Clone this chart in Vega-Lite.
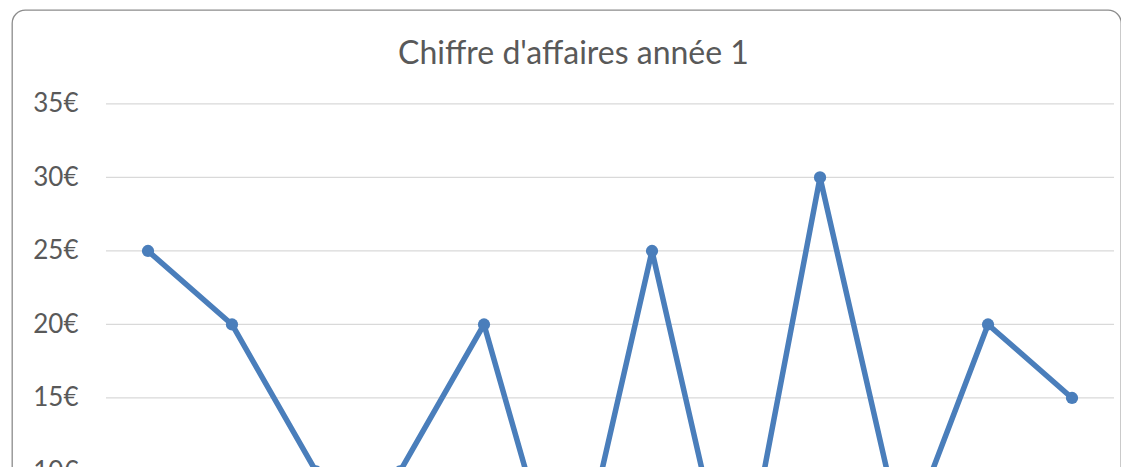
{
  "$schema": "https://vega.github.io/schema/vega-lite/v6.json",
  "width": 1109,
  "height": 682,
  "autosize": {"type": "none"},
  "padding": {"left": 12, "top": 10, "right": 0, "bottom": 0},
  "background": "white",
  "config": {
    "font": "Lato",
    "view": {"stroke": "#8c8c8c", "strokeWidth": 1.3, "cornerRadius": 13}
  },
  "title": {
    "text": "Chiffre d'affaires année 1",
    "font": "Lato",
    "fontSize": 32,
    "fontWeight": "normal",
    "color": "#595959",
    "anchor": "middle",
    "baseline": "alphabetic",
    "offset": -53,
    "dx": 7,
    "dy": 33
  },
  "datasets": {
    "ventes": [
      {"mois": 1, "ca": 25},
      {"mois": 2, "ca": 20},
      {"mois": 3, "ca": 10},
      {"mois": 4, "ca": 10},
      {"mois": 5, "ca": 20},
      {"mois": 6, "ca": 0},
      {"mois": 7, "ca": 25},
      {"mois": 8, "ca": 0},
      {"mois": 9, "ca": 30},
      {"mois": 10, "ca": 5},
      {"mois": 11, "ca": 20},
      {"mois": 12, "ca": 15}
    ],
    "grille": [
      {"v": 0}, {"v": 5}, {"v": 10}, {"v": 15}, {"v": 20}, {"v": 25}, {"v": 30}, {"v": 35}
    ]
  },
  "layer": [
    {
      "data": {"name": "grille"},
      "mark": {"type": "rule", "color": "#d9d9d9", "strokeWidth": 1.2},
      "encoding": {
        "x": {"datum": 0.5, "type": "quantitative", "scale": {"domain": [-0.619, 12.583], "nice": false, "zero": false}, "axis": null},
        "x2": {"datum": 12.5},
        "y": {
          "field": "v",
          "type": "quantitative",
          "scale": {"domain": [-5, 41.39], "nice": false, "zero": false},
          "axis": {
            "values": [0, 5, 10, 15, 20, 25, 30, 35],
            "labelExpr": "datum.value + '€'",
            "offset": -93,
            "labelPadding": 27,
            "ticks": false,
            "domain": false,
            "grid": false,
            "title": null,
            "labelFont": "Lato",
            "labelFontSize": 26,
            "labelColor": "#595959"
          }
        }
      }
    },
    {
      "data": {"name": "ventes"},
      "mark": {"type": "line", "color": "#4a7ebb", "strokeWidth": 5.5, "strokeJoin": "round", "point": {"filled": true, "size": 150, "color": "#4a7ebb"}},
      "encoding": {
        "x": {"field": "mois", "type": "quantitative"},
        "y": {"field": "ca", "type": "quantitative"}
      }
    }
  ]
}
